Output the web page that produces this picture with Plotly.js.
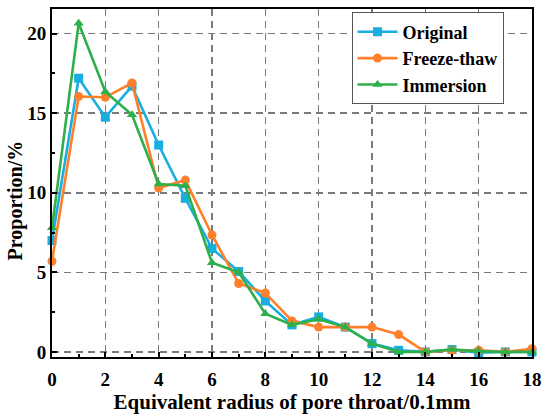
<!DOCTYPE html>
<html>
<head>
<meta charset="utf-8">
<script src="https://cdn.plot.ly/plotly-3.0.1.min.js"></script>
<style>html,body{margin:0;padding:0;background:#fff;}#chart{width:550px;height:419px;}</style>
</head>
<body>
<div id="chart"></div>
<script>
const radius = [0,1,2,3,4,5,6,7,8,9,10,11,12,13,14,15,16,17,18];
const original   = [7.0,17.2,14.75,16.7,13.0,9.65,6.5,5.05,3.2,1.7,2.2,1.56,0.52,0.1,0,0.15,-0.05,0,0];
const freezeThaw = [5.7,16.05,16.0,16.9,10.3,10.8,7.35,4.3,3.7,1.95,1.56,1.56,1.56,1.09,0,0.1,0.1,0,0.2];
const immersion  = [7.8,20.65,16.35,14.9,10.55,10.45,5.6,5.0,2.4,1.7,2.05,1.56,0.52,0,0,0.15,0.05,0,0];
const seriesNames = ["Original","Freeze-thaw","Immersion"];
const colors = ["#1AAEE0","#FF7F2A","#2DB04B"];
const symbols = ["square","circle","triangle-up"];
const values = [original, freezeThaw, immersion];

const font = {family:"Liberation Serif, Times New Roman, serif", color:"#000"};
const traces = values.map((v,i)=>({
  x: radius, y: v, name: seriesNames[i], type:"scatter", mode:"lines+markers",
  line:{color:colors[i], width:2.6},
  marker:{symbol:symbols[i], size:9, color:colors[i]},
  cliponaxis:false
}));

const layout = {
  width:550, height:419,
  margin:{l:52, r:18, t:9, b:62},
  paper_bgcolor:"#fff", plot_bgcolor:"#fff",
  font: Object.assign({size:19, weight:"bold"}, font),
  showlegend:true,
  legend:{x:0.624, y:0.99, xanchor:"left", yanchor:"top",
    bordercolor:"#555", borderwidth:1, bgcolor:"#fff",
    font:Object.assign({size:18, weight:"bold"}, font),
    tracegroupgap:0, itemwidth:40},
  xaxis:{range:[0,18], dtick:2, tick0:0,
    showline:true, linecolor:"#000", linewidth:2, mirror:true,
    ticks:"inside", ticklen:5, tickwidth:2, tickcolor:"#000",
    minor:{dtick:1, ticks:"inside", ticklen:3, tickwidth:2, tickcolor:"#000", showgrid:false},
    showgrid:true, gridcolor:"#7a7a7a", griddash:"7px,5px", gridwidth:1.5,
    zeroline:false, ticklabelstandoff:4,
    tickfont:Object.assign({size:19, weight:"bold"}, font),
    title:{text:"Equivalent radius of pore throat/0.1mm", standoff:6,
      font:Object.assign({size:21, weight:"bold"}, font)}},
  yaxis:{range:[-0.32,21.55], dtick:5, tick0:0,
    showline:true, linecolor:"#000", linewidth:2, mirror:true,
    ticks:"inside", ticklen:5, tickwidth:2, tickcolor:"#000",
    minor:{dtick:2.5, ticks:"inside", ticklen:3, tickwidth:2, tickcolor:"#000", showgrid:false},
    showgrid:true, gridcolor:"#7a7a7a", griddash:"7px,5px", gridwidth:1.5,
    zeroline:false,
    tickfont:Object.assign({size:19, weight:"bold"}, font)},
  annotations:[{text:"Proportion/%", textangle:-90, xref:"paper", yref:"paper",
    x:-0.077, y:0.45, xanchor:"center", yanchor:"middle", showarrow:false,
    font:Object.assign({size:20, weight:"bold"}, font)}]
};
Plotly.newPlot("chart", traces, layout, {displayModeBar:false, staticPlot:true});
</script>
</body>
</html>
